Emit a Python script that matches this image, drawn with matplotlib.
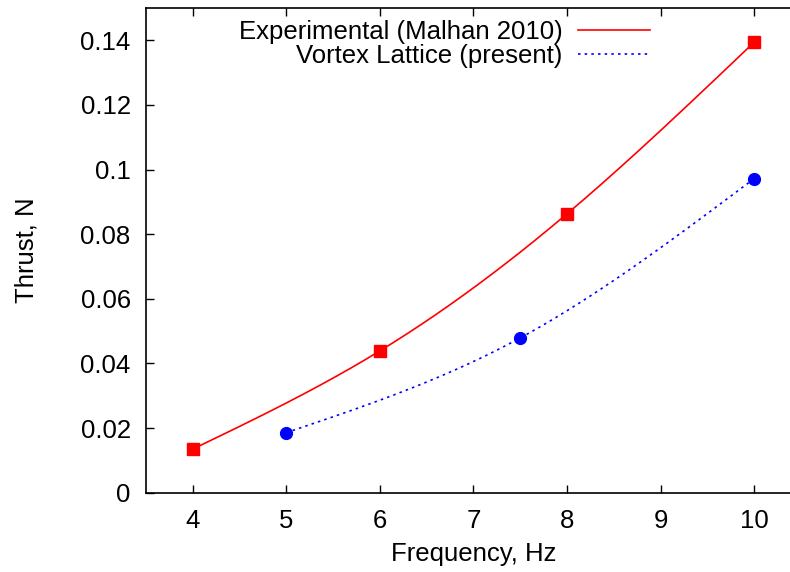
import numpy as np
import matplotlib
matplotlib.use('Agg')
import matplotlib.pyplot as plt
from matplotlib.lines import Line2D
from matplotlib.ticker import FuncFormatter

plt.rcParams['font.family'] = ['Liberation Sans', 'DejaVu Sans']
plt.rcParams['font.size'] = 18.5

# data
exp_freq = [4, 6, 8, 10]
exp_thrust = [0.0135, 0.0439, 0.0863, 0.1394]
vlm_freq = [5, 7.5, 10]
vlm_thrust = [0.0186, 0.0479, 0.0972]

x_ticks = [4, 5, 6, 7, 8, 9, 10]
y_ticks = [0, 0.02, 0.04, 0.06, 0.08, 0.1, 0.12, 0.14]


def csplines(x, y, n=200):
    # natural cubic spline, like gnuplot "smooth csplines"
    x = np.asarray(x, float)
    y = np.asarray(y, float)
    m = len(x)
    h = np.diff(x)
    A = np.zeros((m, m))
    r = np.zeros(m)
    A[0, 0] = A[-1, -1] = 1
    for i in range(1, m - 1):
        A[i, i - 1] = h[i - 1]
        A[i, i] = 2 * (h[i - 1] + h[i])
        A[i, i + 1] = h[i]
        r[i] = 6 * ((y[i + 1] - y[i]) / h[i] - (y[i] - y[i - 1]) / h[i - 1])
    M = np.linalg.solve(A, r)
    xs = np.linspace(x[0], x[-1], n)
    idx = np.clip(np.searchsorted(x, xs) - 1, 0, m - 2)
    x0, x1 = x[idx], x[idx + 1]
    hh = x1 - x0
    t0 = x1 - xs
    t1 = xs - x0
    ys = (M[idx] * t0 ** 3 + M[idx + 1] * t1 ** 3) / (6 * hh) \
        + (y[idx] / hh - M[idx] * hh / 6) * t0 \
        + (y[idx + 1] / hh - M[idx + 1] * hh / 6) * t1
    return xs, ys


fig = plt.figure(figsize=(7.9, 5.72), dpi=100)
ax = fig.add_axes([0.1848, 0.1386, 0.829, 0.8474])

xs, ys = csplines(exp_freq, exp_thrust)
ax.plot(xs, ys, color='#ff0000', lw=1.2)
ax.plot(exp_freq, exp_thrust, 's', color='#ff0000', ms=9, mec='#ff0000')

xs, ys = csplines(vlm_freq, vlm_thrust)
ax.plot(xs, ys, color='#0000ff', lw=1.2, ls=(0, (1.5, 2.5)))
ax.plot(vlm_freq, vlm_thrust, 'o', color='#0000ff', ms=8.5, mec='#0000ff')

ax.set_xlim(3.5, 10.5)
ax.set_ylim(0, 0.15)
ax.set_xticks(x_ticks)
ax.set_yticks(y_ticks)
ax.yaxis.set_major_formatter(FuncFormatter(lambda v, p: '%g' % v))
ax.tick_params(direction='in', length=6, width=1, top=True, right=True)
ax.tick_params(axis='x', pad=12)
ax.tick_params(axis='y', pad=11)
for s in ax.spines.values():
    s.set_linewidth(1.2)

ax.set_xlabel('Frequency, Hz', labelpad=6)
ax.set_ylabel('Thrust, N', labelpad=30)

handles = [Line2D([], [], color='#ff0000', lw=1.2),
           Line2D([], [], color='#0000ff', lw=1.2, ls=(0, (1.5, 2.5)))]
ax.legend(handles, ['Experimental (Malhan 2010)', 'Vortex Lattice (present)'],
          loc='upper right', bbox_to_anchor=(0.769, 0.975), frameon=False,
          markerfirst=False, handlelength=2.8, handletextpad=0.6,
          labelspacing=0.0, borderpad=0, borderaxespad=0)

fig.savefig('out.png', dpi=100)
